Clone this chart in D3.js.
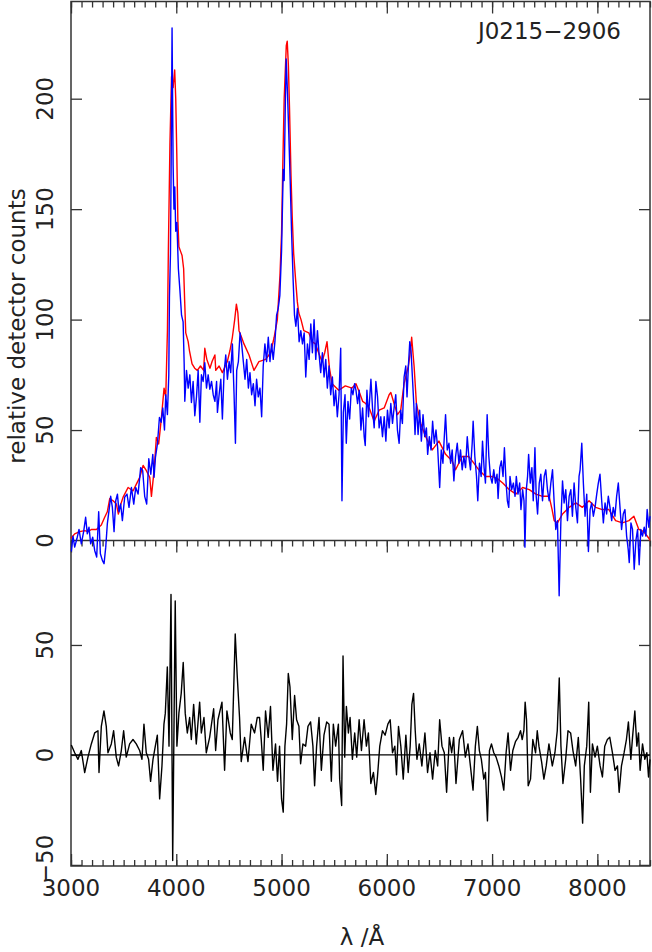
<!DOCTYPE html>
<html>
<head>
<meta charset="utf-8">
<title>J0215-2906 spectrum</title>
<script src="https://cdn.jsdelivr.net/npm/d3@7"></script>
<style>
    body { margin: 0; background: #fff; }
    svg text { font-family: "DejaVu Sans", sans-serif; font-size: 23px; fill: #222; }
    .ticks line { stroke: #333; stroke-width: 1.3; }
    .ticks path { display: none; }
</style>
</head>
<body>
<svg id="chart" width="652" height="952"></svg>
<script>
// wavelength (Angstrom), counts
const modelSpectrum = [
    [3000, 1], [3035, 3], [3082, 4], [3130, 4.5], [3162, 4], [3193, 5], [3241, 5], [3288, 7],
    [3320, 10.5], [3345, 13], [3368, 19], [3400, 18], [3431, 16.5], [3450, 12], [3463, 15], [3494, 19.5],
    [3542, 24], [3590, 22.5], [3621, 25.5], [3653, 28.6], [3685, 34], [3716, 31.6], [3748, 28.6], [3764, 20],
    [3789, 31.6], [3811, 46.7], [3833, 43.7], [3859, 55.7], [3884, 69], [3900, 65], [3916, 95], [3925, 132],
    [3940, 180], [3955, 210], [3970, 205], [3985, 213], [3995, 200], [4005, 175], [4015, 145], [4025, 133],
    [4040, 131], [4055, 129], [4070, 123], [4080, 108], [4090, 94], [4113, 90], [4125, 86], [4150, 80],
    [4175, 78], [4200, 77], [4230, 79], [4260, 77], [4271, 87], [4290, 82], [4320, 78], [4340, 81],
    [4367, 84], [4375, 77], [4407, 79], [4438, 76], [4485, 81], [4510, 86], [4533, 92], [4555, 100],
    [4571, 107], [4585, 103], [4596, 95], [4620, 92], [4643, 89], [4691, 84], [4738, 77], [4785, 81],
    [4849, 82], [4896, 85], [4930, 92], [4960, 100], [4985, 120], [5000, 139], [5012, 170], [5025, 200],
    [5045, 224], [5054, 226], [5065, 215], [5076, 195], [5090, 165], [5101, 147], [5115, 130], [5132, 119],
    [5150, 108], [5164, 103], [5185, 100], [5211, 95], [5259, 94], [5290, 90], [5322, 89], [5360, 84],
    [5385, 81], [5410, 85], [5432, 90], [5455, 78], [5480, 71], [5543, 68], [5606, 70], [5669, 69],
    [5707, 71], [5740, 67], [5770, 63], [5800, 62], [5833, 60], [5880, 54], [5927, 59], [5975, 60],
    [6022, 66], [6038, 67], [6069, 62], [6101, 57], [6132, 59], [6164, 71], [6205, 79], [6225, 86],
    [6236, 92], [6250, 84], [6259, 79], [6281, 62], [6322, 53], [6369, 47], [6400, 44], [6432, 41],
    [6495, 45], [6558, 39], [6621, 36], [6653, 32], [6716, 38], [6779, 38], [6827, 35], [6874, 32],
    [6937, 29], [7000, 29], [7050, 28], [7101, 26], [7164, 23], [7227, 21], [7290, 24], [7353, 23],
    [7416, 21], [7479, 20], [7542, 20], [7570, 14], [7590, 9], [7621, 8], [7669, 12], [7732, 15],
    [7795, 17], [7858, 15], [7921, 18], [7984, 15], [8047, 14], [8110, 14], [8173, 9], [8237, 8],
    [8300, 9], [8347, 11], [8394, 5], [8441, 4], [8489, 1], [8500, 0]
];

const observedSpectrum = [
    [3003, -5], [3019, 2], [3035, -3], [3057, 1], [3076, 5], [3098, -1.5], [3120, 4], [3139, 10.5],
    [3155, 3], [3171, 6], [3187, -1.5], [3206, 1.5], [3225, -4.5], [3244, -7.5], [3263, 13], [3279, -6],
    [3298, -9], [3314, -10.5], [3330, -3], [3345, 7.5], [3361, 13.5], [3377, 20], [3393, 15], [3409, 4],
    [3425, 18], [3441, 21], [3456, 13], [3472, 16.5], [3488, 9], [3510, 19.6], [3532, 21], [3551, 15],
    [3574, 24], [3596, 16.5], [3615, 24], [3637, 21], [3662, 33], [3681, 31.6], [3700, 20], [3719, 16.5],
    [3739, 37], [3758, 30], [3777, 39], [3789, 28.6], [3802, 37.6], [3821, 43.7], [3840, 55.7], [3856, 53.5],
    [3872, 60], [3888, 50], [3900, 66], [3916, 57], [3929, 75], [3935, 110], [3945, 130], [3952, 175],
    [3960, 232], [3970, 170], [3978, 150], [3986, 160], [3995, 140], [4006, 144], [4020, 123], [4035, 113],
    [4050, 102], [4065, 99], [4075, 80], [4081, 63], [4097, 77], [4113, 69], [4129, 75], [4144, 62.5],
    [4160, 72], [4176, 56.5], [4192, 65], [4208, 77], [4224, 53.5], [4239, 75], [4255, 72], [4271, 80.5],
    [4287, 69], [4303, 75], [4319, 68.5], [4335, 72], [4351, 66], [4367, 63], [4383, 72], [4391, 58],
    [4407, 66], [4423, 73], [4438, 55], [4454, 76], [4470, 84], [4486, 73], [4502, 81], [4517, 76],
    [4533, 89], [4549, 66], [4562, 44], [4574, 77], [4590, 81], [4606, 94], [4621, 89], [4637, 81],
    [4653, 73], [4669, 82], [4685, 69], [4700, 76], [4716, 66], [4732, 71], [4748, 61], [4763, 73],
    [4779, 65], [4795, 69], [4811, 56], [4826, 79], [4842, 89], [4858, 81], [4874, 92], [4890, 81],
    [4905, 89], [4921, 82], [4937, 90], [4953, 102], [4968, 105], [4984, 111], [5000, 131], [5016, 168],
    [5025, 163], [5035, 195], [5044, 218], [5057, 202], [5069, 184], [5082, 163], [5095, 140], [5110, 118],
    [5123, 102], [5136, 97], [5151, 105], [5167, 90], [5183, 95], [5199, 89], [5215, 94], [5230, 74],
    [5246, 89], [5262, 82], [5278, 98], [5293, 85], [5309, 100], [5325, 82], [5341, 95], [5357, 84],
    [5372, 76], [5388, 85], [5404, 74], [5420, 82], [5435, 69], [5451, 79], [5467, 66], [5483, 74],
    [5499, 61], [5514, 68], [5530, 56], [5546, 66], [5562, 87], [5574, 18], [5587, 58], [5603, 66],
    [5615, 44], [5631, 63], [5647, 55], [5663, 69], [5678, 66], [5694, 71], [5707, 68], [5722, 62],
    [5738, 68], [5754, 50], [5770, 60], [5785, 47], [5795, 43], [5811, 68], [5826, 56], [5849, 73],
    [5864, 60], [5880, 51], [5896, 72], [5912, 65], [5927, 51], [5943, 56], [5959, 47], [5975, 56],
    [5991, 45], [6006, 59], [6022, 51], [6038, 62], [6054, 53], [6069, 60], [6085, 66], [6101, 50],
    [6117, 44], [6132, 59], [6148, 53], [6164, 74], [6180, 79], [6192, 65], [6205, 79], [6218, 90],
    [6230, 86], [6243, 74], [6256, 62], [6268, 48], [6281, 62], [6297, 48], [6312, 59], [6328, 45],
    [6344, 57], [6360, 47], [6376, 51], [6388, 39], [6404, 47], [6420, 41], [6435, 54], [6451, 44],
    [6467, 50], [6483, 42], [6502, 24], [6517, 41], [6533, 35], [6546, 47], [6558, 57], [6574, 41],
    [6590, 44], [6606, 35], [6621, 41], [6637, 27], [6653, 38], [6669, 44], [6685, 35], [6700, 41],
    [6716, 32], [6732, 38], [6748, 33], [6764, 47], [6779, 38], [6795, 32], [6811, 44], [6820, 54],
    [6836, 38], [6852, 29], [6864, 18], [6880, 35], [6896, 29], [6909, 45], [6924, 33], [6937, 26],
    [6953, 57], [6969, 38], [6984, 29], [7000, 26], [7016, 32], [7032, 26], [7047, 30], [7057, 19],
    [7073, 33], [7088, 36], [7104, 29], [7117, 42], [7133, 26], [7145, 18], [7158, 15], [7170, 29],
    [7186, 23], [7202, 26], [7218, 20], [7230, 29], [7246, 21], [7262, 26], [7274, 14], [7290, 23],
    [7303, 18], [7312, -3], [7325, 23], [7337, 29], [7347, 39], [7363, 26], [7378, 33], [7391, 18],
    [7407, 42], [7419, 20], [7432, 12], [7448, 26], [7463, 30], [7479, 18], [7495, 29], [7510, 32],
    [7526, 23], [7542, 18], [7558, 26], [7574, 32], [7590, 17], [7605, 5], [7621, 9], [7637, -25],
    [7653, 8], [7669, 27], [7684, 17], [7700, 23], [7716, 9], [7732, 20], [7748, 23], [7763, 11],
    [7779, 26], [7795, 15], [7811, 8], [7826, 29], [7836, 32], [7852, 44], [7867, 26], [7883, 11],
    [7899, 21], [7915, -5], [7931, 14], [7946, 17], [7962, 11], [7978, 15], [7994, 21], [8009, 26],
    [8025, 30], [8041, 18], [8057, 8], [8073, 17], [8088, 12], [8104, 20], [8120, 15], [8136, 9],
    [8151, 15], [8167, 11], [8183, 20], [8199, 26], [8215, 15], [8230, 5], [8246, 12], [8262, 14],
    [8278, 2], [8293, -4], [8303, -10], [8319, 8], [8334, 5], [8350, -13], [8366, 0], [8382, 5],
    [8397, -11], [8413, 5], [8429, 2], [8445, 6], [8461, 2], [8473, 14], [8489, 6], [8500, 11]
];

const residualSpectrum = [
    [3003, 4.5], [3035, 1], [3066, -2], [3098, 2], [3130, -8], [3161, -1], [3193, 5], [3225, 10],
    [3256, 11], [3266, -8], [3288, 13], [3313, 20], [3335, 13], [3351, 1], [3383, 5], [3405, 11],
    [3430, -1], [3452, -5], [3478, 2], [3500, 11], [3525, -1], [3557, 5], [3589, 7], [3620, 5],
    [3652, 2], [3674, -2], [3693, 14], [3715, 1], [3737, -2], [3756, -12], [3779, -2], [3801, 4],
    [3820, 9], [3842, -20], [3864, -5], [3883, 14], [3896, 19], [3915, 40], [3931, 4], [3950, 73],
    [3966, -48], [3990, 70], [4006, 4], [4025, 19], [4047, 28], [4066, 42], [4085, 19], [4105, 10],
    [4127, 17], [4143, 7], [4165, 23], [4190, 5], [4222, 24], [4238, 10], [4263, 17], [4285, 1],
    [4317, 8], [4355, 21], [4374, 2], [4396, 16], [4434, 24], [4459, -7], [4481, 20], [4513, 10],
    [4532, 7], [4560, 55], [4579, 36], [4601, 17], [4617, -3], [4649, 8], [4681, -3], [4712, 14],
    [4744, 10], [4769, 17], [4791, 17], [4807, 7], [4826, -7], [4848, 20], [4873, 8], [4895, 22],
    [4918, -7], [4943, 5], [4962, -12], [4981, 4], [5000, -20], [5016, -26], [5032, 4], [5048, 14],
    [5064, 37], [5080, 31], [5102, 7], [5124, 27], [5143, 16], [5165, 13], [5181, -4], [5203, 5],
    [5229, 4], [5251, 13], [5276, 15], [5298, 4], [5314, -14], [5333, 4], [5356, 17], [5378, -7],
    [5403, 9], [5429, 15], [5451, 14], [5473, -12], [5492, 14], [5514, 4], [5540, 14], [5552, -11],
    [5571, -23], [5584, 45], [5600, -1], [5616, 22], [5635, 10], [5651, 17], [5673, -2], [5695, 10],
    [5714, -1], [5737, 16], [5759, 2], [5784, 16], [5806, 4], [5825, 10], [5848, -13], [5873, -8],
    [5895, -18], [5911, -10], [5933, 4], [5959, 11], [5984, 9], [6010, 14], [6032, 16], [6054, 1],
    [6076, 4], [6092, -9], [6111, 13], [6133, 4], [6156, -11], [6181, 9], [6203, -8], [6222, 4],
    [6238, 23], [6254, 28], [6270, 11], [6286, -2], [6308, 5], [6333, -5], [6362, 10], [6387, -8],
    [6410, 1], [6435, -11], [6460, 2], [6483, -5], [6502, 16], [6524, 4], [6546, 1], [6568, -17],
    [6594, 8], [6616, 1], [6635, 8], [6657, -13], [6689, 7], [6720, 11], [6746, -1], [6771, 5],
    [6794, -5], [6819, -16], [6841, 4], [6860, 13], [6879, 2], [6898, -2], [6921, -11], [6937, -8],
    [6956, -30], [6975, 2], [6994, 5], [7016, 1], [7038, -1], [7064, -5], [7089, -10], [7111, -16],
    [7133, 1], [7152, 10], [7175, -7], [7197, 2], [7222, 6], [7248, 8], [7270, 11], [7286, 7],
    [7302, 11], [7314, 24], [7327, 16], [7343, -14], [7365, -11], [7387, 7], [7413, 1], [7429, 11],
    [7445, 4], [7470, -3], [7492, -11], [7514, -5], [7540, 5], [7572, -5], [7597, 1], [7619, 11],
    [7638, 35], [7654, 4], [7673, -13], [7699, -2], [7721, 11], [7746, 10], [7768, 2], [7794, -5],
    [7819, 8], [7841, -11], [7860, -31], [7876, -5], [7899, 4], [7918, 24], [7934, -17], [7953, 5],
    [7978, -1], [8000, 4], [8026, -5], [8048, -10], [8070, 4], [8095, 7], [8118, 8], [8143, 1],
    [8168, -7], [8191, -5], [8207, -17], [8229, -5], [8254, 1], [8276, 7], [8295, 15], [8318, -2],
    [8334, 8], [8356, 20], [8375, 4], [8391, 10], [8406, -7], [8429, 5], [8451, -2], [8470, 1],
    [8486, -10], [8500, -2]
];

const waveTicks = [3000, 4000, 5000, 6000, 7000, 8000];
const countTicks = [0, 50, 100, 150, 200];
const residualTicks = [-50, 0, 50];
const titleText = 'J0215\u22122906';
const yLabelText = 'relative detector counts';
const xLabelText = '\u03bb /\u00c5';

document.addEventListener('DOMContentLoaded', drawChart);

function drawChart() {
    const svg = d3.select('#chart');

    const left = 71;
    const right = 650;
    const top = 1.5;
    const split = 540.5;
    const bottom = 866;

    const x = d3.scaleLinear().domain([3000, 8500]).range([left, right]);
    const yCounts = d3.scaleLinear().domain([0, 244]).range([split, top]);
    const yResid = d3.scaleLinear().domain([-50.5, 97.5]).range([bottom, split]);
    const minorWaves = d3.range(3000, 8501, 100);

    // x ticks along the three horizontal edges
    const addXTicks = (y, dir) => {
        [[minorWaves, 6], [waveTicks, 12]].forEach(([values, size]) => {
            svg.append('g')
                .attr('class', 'ticks')
                .attr('transform', `translate(0,${y})`)
                .call(d3.axisBottom(x).tickValues(values).tickSize(size * dir).tickSizeOuter(0).tickFormat(''));
        });
    };
    addXTicks(top, 1);
    addXTicks(split, 1);
    addXTicks(bottom, -1);

    const addYTicks = (scale, values) => {
        svg.append('g')
            .attr('class', 'ticks')
            .attr('transform', `translate(${left},0)`)
            .call(d3.axisLeft(scale).tickValues(values).tickSize(-11).tickSizeOuter(0).tickFormat(''));
        svg.append('g')
            .attr('class', 'ticks')
            .attr('transform', `translate(${right},0)`)
            .call(d3.axisRight(scale).tickValues(values).tickSize(-11).tickSizeOuter(0).tickFormat(''));
    };
    addYTicks(yCounts, countTicks.filter((v) => v > 0));
    addYTicks(yResid, residualTicks);

    svg.append('rect')
        .attr('x', left).attr('y', top)
        .attr('width', right - left).attr('height', bottom - top)
        .attr('fill', 'none').attr('stroke', '#333').attr('stroke-width', 1.5);

    svg.append('line')
        .attr('x1', left).attr('x2', right)
        .attr('y1', split).attr('y2', split)
        .attr('stroke', '#333').attr('stroke-width', 1.5);

    svg.append('line')
        .attr('x1', x(3000)).attr('x2', x(8500))
        .attr('y1', yResid(0)).attr('y2', yResid(0))
        .attr('stroke', '#000').attr('stroke-width', 1.3);

    const countLine = d3.line().x((d) => x(d[0])).y((d) => yCounts(d[1]));
    const residLine = d3.line().x((d) => x(d[0])).y((d) => yResid(d[1]));

    svg.append('path').datum(modelSpectrum)
        .attr('d', countLine).attr('fill', 'none')
        .attr('stroke', '#ff0000').attr('stroke-width', 1.4).attr('stroke-linejoin', 'round');

    svg.append('path').datum(observedSpectrum)
        .attr('d', countLine).attr('fill', 'none')
        .attr('stroke', '#0000ff').attr('stroke-width', 1.4).attr('stroke-linejoin', 'round');

    svg.append('path').datum(residualSpectrum)
        .attr('d', residLine).attr('fill', 'none')
        .attr('stroke', '#000').attr('stroke-width', 1.4).attr('stroke-linejoin', 'round');

    // labels
    const yLabel = (y, text) => {
        svg.append('text')
            .attr('transform', `translate(53,${y}) rotate(-90)`)
            .attr('text-anchor', 'middle')
            .text(text);
    };
    countTicks.forEach((v) => yLabel(yCounts(v), v));
    residualTicks.forEach((v) => yLabel(v < 0 ? yResid(v) - 6 : yResid(v), v < 0 ? `\u2212${-v}` : v));

    svg.selectAll('.wave-label')
        .data(waveTicks)
        .join('text')
        .attr('class', 'wave-label')
        .attr('x', (d) => x(d))
        .attr('y', 896)
        .attr('text-anchor', 'middle')
        .text((d) => d);

    svg.append('text')
        .attr('transform', 'translate(25,326) rotate(-90)')
        .attr('text-anchor', 'middle')
        .text(yLabelText);

    svg.append('text')
        .attr('x', 621).attr('y', 39)
        .attr('text-anchor', 'end')
        .text(titleText);

    svg.append('text')
        .attr('x', 362).attr('y', 945)
        .attr('text-anchor', 'middle')
        .text(xLabelText);
}
</script>
</body>
</html>
